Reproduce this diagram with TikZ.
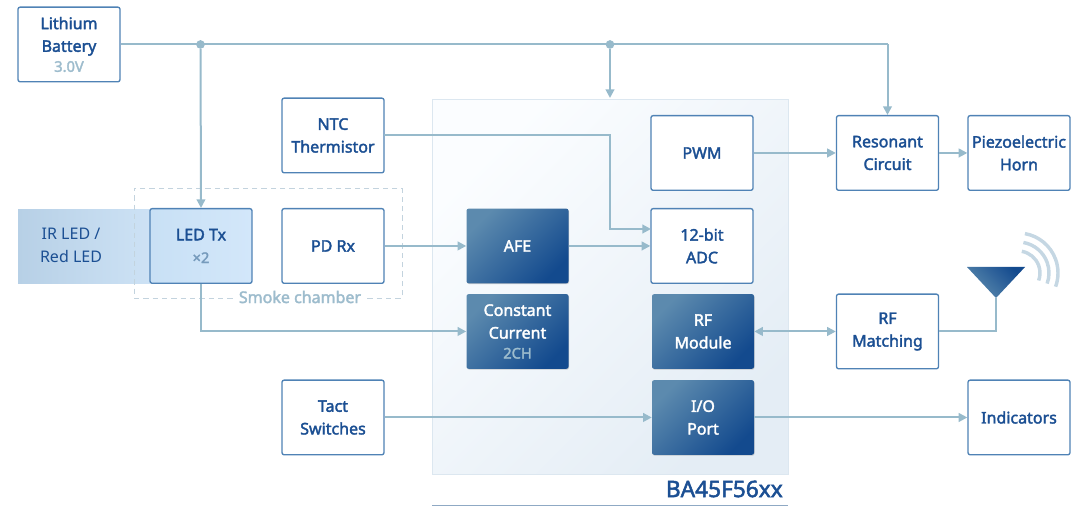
\documentclass[tikz,border=0pt]{standalone}
\usepackage{fontspec}
\setmainfont{Noto Sans}[BoldFont={Noto Sans},BoldFeatures={FakeBold=2.2}]
\usetikzlibrary{arrows.meta,shadows,calc}
\definecolor{linec}{HTML}{97BACB}
\definecolor{edgec}{HTML}{4F82B5}
\definecolor{textc}{HTML}{1B4F93}
\definecolor{mutedc}{HTML}{9DBCCD}
\definecolor{darktl}{HTML}{5C8AAE}
\definecolor{darkbr}{HTML}{134A8E}
\definecolor{wavec}{HTML}{C5D7E3}
\definecolor{chiptl}{HTML}{FBFDFF}
\definecolor{chipbr}{HTML}{E4EDF5}
\definecolor{chipedge}{HTML}{DCE7F0}
\definecolor{bandl}{HTML}{B7D0E6}
\definecolor{bandr}{HTML}{CDE2F5}
\definecolor{txl}{HTML}{C8E0F5}
\definecolor{txr}{HTML}{D3E7FA}
\definecolor{dashc}{HTML}{C3D3DE}
\definecolor{basec}{HTML}{8FA9C4}
\tikzset{
  x=0.75pt,y=-0.75pt,
  basebox/.style={yshift=0.4pt,minimum width=76.5pt,minimum height=56pt,inner sep=0pt,align=center,rounded corners=1.6pt,font=\fontsize{12}{17}\selectfont\bfseries},
  whitebox/.style={basebox,draw=edgec,line width=1pt,fill=white,text=textc},
  darkbox/.style={basebox,drop shadow={shadow xshift=0.4pt,shadow yshift=-0.6pt,opacity=.3,fill=black!60},top color=darktl,bottom color=darkbr,shading angle=45,text=white},
  wire/.style={draw=linec,line width=1.5pt},
  arr/.style={wire,-{Triangle[length=6.5pt,width=6.5pt]}},
  darr/.style={wire,{Triangle[length=6.5pt,width=6.5pt]}-{Triangle[length=6.5pt,width=6.5pt]}},
  junction/.style={circle,fill=linec,minimum size=6.5pt,inner sep=0pt},
  wave/.style={draw=wavec,line width=2.6pt},
}
\begin{document}
\begin{tikzpicture}
\useasboundingbox (0,0) rectangle (1079,506);
% chip
\node[name=chip,minimum width=267pt,minimum height=281pt,inner sep=0pt,draw=chipedge,line width=.5pt,top color=chiptl,bottom color=chipbr,shading angle=45] at (610,286.5) {};
\node[name=chipname,anchor=east,text=textc,font=\fontsize{17}{20}\selectfont\bfseries,inner sep=0pt] at (783,489) {BA45F56xx};
\coordinate (basel) at (432,505.5); \coordinate (baser) at (788,505.5);
\draw[basec,line width=.8pt] (basel) -- (baser);
% IR band
\node[name=band,minimum width=99pt,minimum height=56pt,inner sep=0pt,left color=bandl,right color=bandr] at (84,246.5) {};
\node[name=bandtext,text=textc,align=center,font=\fontsize{12}{17}\selectfont] at (71,245.5) {IR LED /\\Red LED};
% smoke chamber
\node[name=smoke,minimum width=201pt,minimum height=82.5pt,inner sep=0pt,draw=dashc,dash pattern=on 4pt off 3pt,line width=.7pt] at (268,243) {};
\node[name=smoketext,fill=white,text=mutedc,inner sep=2pt,font=\fontsize{12}{14}\selectfont\bfseries] at (300,297) {Smoke chamber};
% boxes
\node[whitebox,name=lith] at (69,45) {Lithium\\Battery\\[-2pt]{\color{mutedc}\fontsize{11}{13}\selectfont 3.0V}};
\node[whitebox,name=ntc] at (333,136) {NTC\\Thermistor};
\node[whitebox,name=led,left color=txl,right color=txr] at (201,246.5) {LED Tx\\{\color{mutedc!70!textc}\fontsize{11}{13}\selectfont ×2}};
\node[whitebox,name=pd] at (333,246.5) {PD Rx};
\node[whitebox,name=tact] at (333,418) {Tact\\Switches};
\node[whitebox,name=pwm] at (702,153.5) {PWM};
\node[whitebox,name=adc] at (702,246.5) {12-bit\\ADC};
\node[darkbox,name=afe] at (517.5,246.5) {AFE};
\node[darkbox,name=cc] at (517.5,332) {Constant\\Current\\[-2pt]{\color{mutedc}\fontsize{11}{13}\selectfont 2CH}};
\node[darkbox,name=rf] at (703,332) {RF\\Module};
\node[darkbox,name=io] at (703,418) {I/O\\Port};
\node[whitebox,name=res] at (887.5,153.5) {Resonant\\Circuit};
\node[whitebox,name=horn] at (1019,153.5) {Piezoelectric\\Horn};
\node[whitebox,name=match] at (887.5,332) {RF\\Matching};
\node[whitebox,name=ind] at (1019,418) {Indicators};
% antenna
\node[name=ant,minimum size=0pt,inner sep=0pt] at (996,298) {};
\coordinate (antl) at (967,267); \coordinate (antr) at (1025,267);
\shade[top color=darkbr,bottom color=darktl,shading angle=-45] (antl) -- (antr) -- (ant.center) -- cycle;
\coordinate (wc) at (1018,273);
\foreach \r in {22,31,40}{
  \draw[wave] ($(wc)+({\r*cos(80)},{-\r*sin(80)})$) arc[start angle=-80,end angle=20,radius=\r];
}
% power rail
\coordinate (j1pos) at (200.5,0);
\coordinate (j2pos) at (610,0);
\node[junction,name=j1] at (j1pos |- lith.east) {};
\node[junction,name=j2] at (j2pos |- lith.east) {};
\coordinate (chiptop) at (610,98);
\coordinate (rescorner) at (res.north |- lith.east);
\draw[wire] (lith.east) -- (j1.center) -- (j2.center) -- (rescorner);
\draw[arr] (rescorner) -- (res.north);
\draw[arr] (j1) -- (led.north);
\draw[arr] (j2) -- (chiptop);
% signals
\coordinate (adcin1) at (651,229);
\coordinate (ntcout) at (384,135);
\coordinate (ntcturn) at (610,135);
\draw[arr] (ntcout) -- (ntcturn) |- (adcin1);
\draw[arr] (pd.east) -- (afe.west);
\draw[arr] (afe.east) -- (adc.west);
\draw[arr] (led.south) |- (cc.west);
\draw[arr] (tact.east) -- (io.west);
\draw[arr] (io.east) -- (ind.west);
\draw[arr] (pwm.east) -- (res.west);
\draw[arr] (res.east) -- (horn.west);
\draw[darr] (rf.east) -- (match.west);
\draw[wire] (match.east) -| (ant.center);
\end{tikzpicture}
\end{document}
